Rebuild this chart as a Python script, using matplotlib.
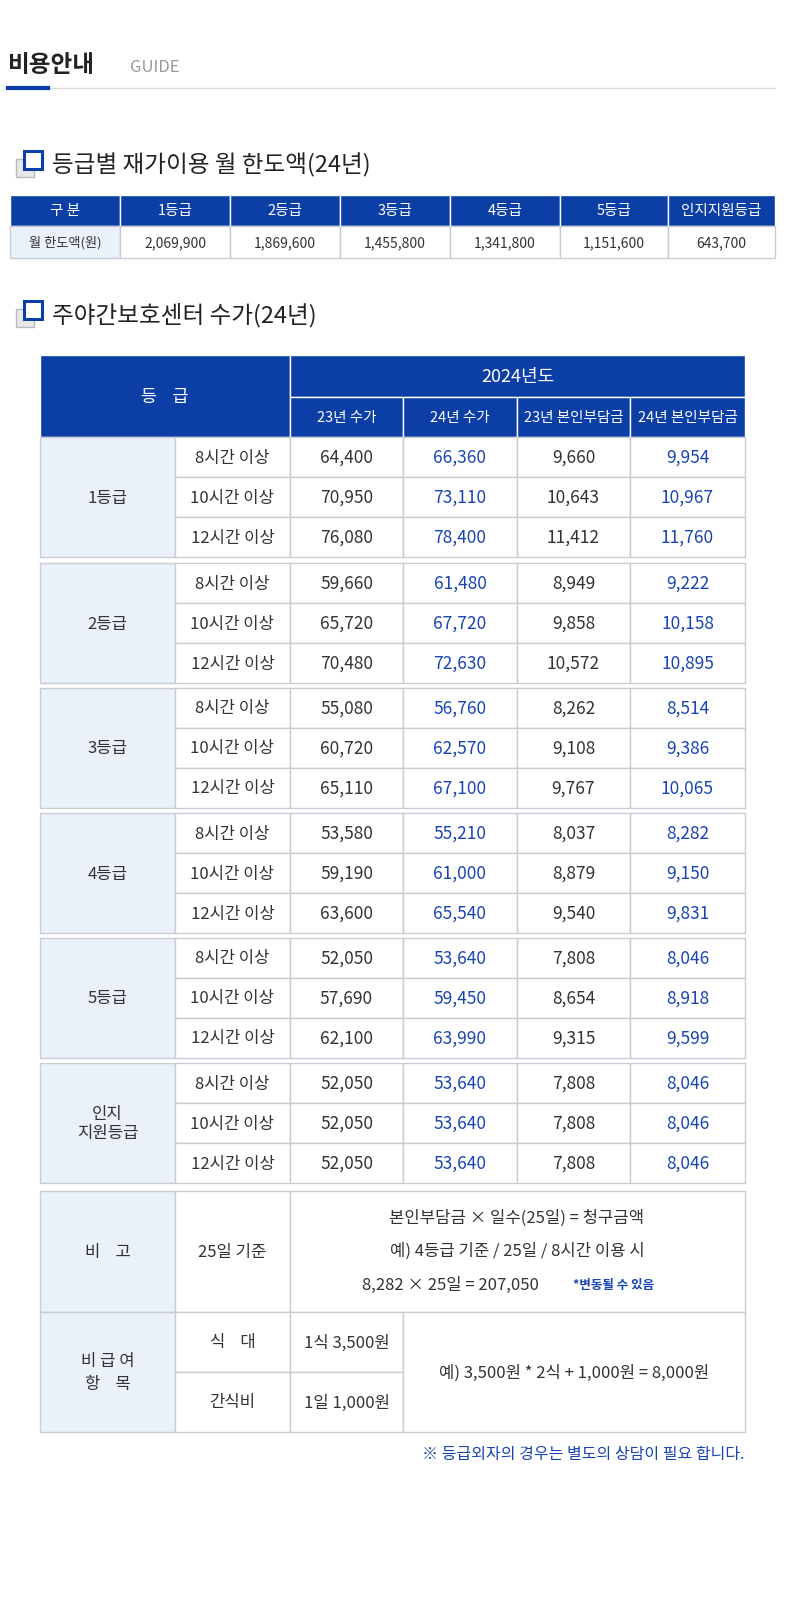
import matplotlib
matplotlib.use("Agg")
import matplotlib.pyplot as plt
from matplotlib.patches import Rectangle

plt.rcParams["font.family"] = "Noto Sans CJK KR"

BLUE = "#0b3fa6"
BLUE_TXT = "#1a44b4"
LIGHT = "#eaf1fa"
LINE = "#c9ccd2"
TXT = "#333333"

# 표 1: 등급별 재가이용 월 한도액
limit_grades = ["1등급", "2등급", "3등급", "4등급", "5등급", "인지지원등급"]
limit_values = [2069900, 1869600, 1455800, 1341800, 1151600, 643700]

# 표 2: 주야간보호센터 수가
grades = ["1등급", "2등급", "3등급", "4등급", "5등급", "인지\n지원등급"]
hours = ["8시간 이상", "10시간 이상", "12시간 이상"]
fee_23 = [[64400, 70950, 76080], [59660, 65720, 70480], [55080, 60720, 65110],
          [53580, 59190, 63600], [52050, 57690, 62100], [52050, 52050, 52050]]
fee_24 = [[66360, 73110, 78400], [61480, 67720, 72630], [56760, 62570, 67100],
          [55210, 61000, 65540], [53640, 59450, 63990], [53640, 53640, 53640]]
copay_23 = [[9660, 10643, 11412], [8949, 9858, 10572], [8262, 9108, 9767],
            [8037, 8879, 9540], [7808, 8654, 9315], [7808, 7808, 7808]]
copay_24 = [[9954, 10967, 11760], [9222, 10158, 10895], [8514, 9386, 10065],
            [8282, 9150, 9831], [8046, 8918, 9599], [8046, 8046, 8046]]
col_heads = ["23년 수가", "24년 수가", "23년 본인부담금", "24년 본인부담금"]

fig = plt.figure(figsize=(8, 16), dpi=100)
ax = fig.add_axes([0, 0, 1, 1])
ax.set_xlim(0, 800)
ax.set_ylim(1600, 0)
ax.axis("off")


def cell(x0, x1, y0, y1, text="", fc="white", ec=LINE, color=TXT, size=12, **kw):
    ax.add_patch(Rectangle((x0, y0), x1 - x0, y1 - y0, facecolor=fc, edgecolor=ec, lw=1))
    if text:
        ax.text((x0 + x1) / 2, (y0 + y1) / 2 + 1, text, ha="center", va="center",
                color=color, fontsize=size, **kw)


def section(y, title):
    ax.add_patch(Rectangle((16, y - 6), 18, 18, facecolor="#e8e8e8", edgecolor="#bbbbbb", lw=1))
    ax.add_patch(Rectangle((24, y - 14), 18, 18, facecolor="white", edgecolor=BLUE, lw=2.2))
    ax.text(52, y, title, fontsize=17, va="center", color="#222222")


# 상단 제목
ax.text(8, 65, "비용안내", fontsize=17, fontweight="bold", va="center", color="#222222")
ax.text(130, 68, "GUIDE", fontsize=12, va="center", color="#999999")
ax.plot([8, 775], [88, 88], color="#dddddd", lw=1)
ax.plot([8, 48], [88, 88], color=BLUE, lw=3)

# 표 1
section(165, "등급별 재가이용 월 한도액(24년)")
xs1 = [10, 120, 230, 340, 450, 560, 668, 775]
cell(xs1[0], xs1[1], 195, 226, "구 분", fc=BLUE, ec="white", color="white", size=10.5)
cell(xs1[0], xs1[1], 226, 258, "월 한도액(원)", fc=LIGHT, size=9.5)
for i, (g, v) in enumerate(zip(limit_grades, limit_values)):
    cell(xs1[i + 1], xs1[i + 2], 195, 226, g, fc=BLUE, ec="white", color="white", size=10.5)
    cell(xs1[i + 1], xs1[i + 2], 226, 258, f"{v:,}", size=10)

# 표 2
section(315, "주야간보호센터 수가(24년)")
xs = [40, 175, 290, 403, 517, 630, 745]
cell(40, 290, 355, 437, "등    급", fc=BLUE, ec="white", color="white", size=12.5)
cell(290, 745, 355, 397, "2024년도", fc=BLUE, ec="white", color="white", size=13)
for j, h in enumerate(col_heads):
    cell(xs[j + 2], xs[j + 3], 397, 437, h, fc=BLUE, ec="white", color="white", size=10.5)

rh = 40
for g in range(len(grades)):
    y0 = 437 + g * 125 + (0 if g == 0 else 1)
    cell(40, 175, y0, y0 + 3 * rh, grades[g], fc=LIGHT, size=12)
    for r in range(3):
        ya, yb = y0 + r * rh, y0 + (r + 1) * rh
        cell(175, 290, ya, yb, hours[r])
        vals = [fee_23[g][r], fee_24[g][r], copay_23[g][r], copay_24[g][r]]
        for j, v in enumerate(vals):
            c = BLUE_TXT if j in (1, 3) else TXT
            cell(xs[j + 2], xs[j + 3], ya, yb, f"{v:,}", color=c, size=12.5)

# 비고
yb0, yb1 = 1191, 1312
cell(40, 175, yb0, yb1, "비    고", fc=LIGHT)
cell(175, 290, yb0, yb1, "25일 기준")
cell(290, 745, yb0, yb1)
ax.text(517, 1218, "본인부담금 × 일수(25일) = 청구금액", ha="center", va="center", fontsize=12, color=TXT)
ax.text(517, 1251, "예) 4등급 기준 / 25일 / 8시간 이용 시", ha="center", va="center", fontsize=12, color=TXT)
ax.text(362, 1285, "8,282 × 25일 = 207,050", ha="left", va="center", fontsize=12, color=TXT)
ax.text(573, 1286, "*변동될 수 있음", ha="left", va="center", fontsize=9, color=BLUE_TXT, fontweight="bold")

# 비급여 항목
cell(40, 175, 1312, 1432, "비 급 여\n항    목", fc=LIGHT, linespacing=1.4)
cell(175, 290, 1312, 1372, "식    대")
cell(290, 403, 1312, 1372, "1식 3,500원")
cell(175, 290, 1372, 1432, "간식비")
cell(290, 403, 1372, 1432, "1일 1,000원")
cell(403, 745, 1312, 1432, "예) 3,500원 * 2식 + 1,000원 = 8,000원")

ax.text(745, 1455, "※ 등급외자의 경우는 별도의 상담이 필요 합니다.", ha="right", va="center",
        fontsize=11.5, color=BLUE_TXT)

fig.savefig("out.png", dpi=100)
